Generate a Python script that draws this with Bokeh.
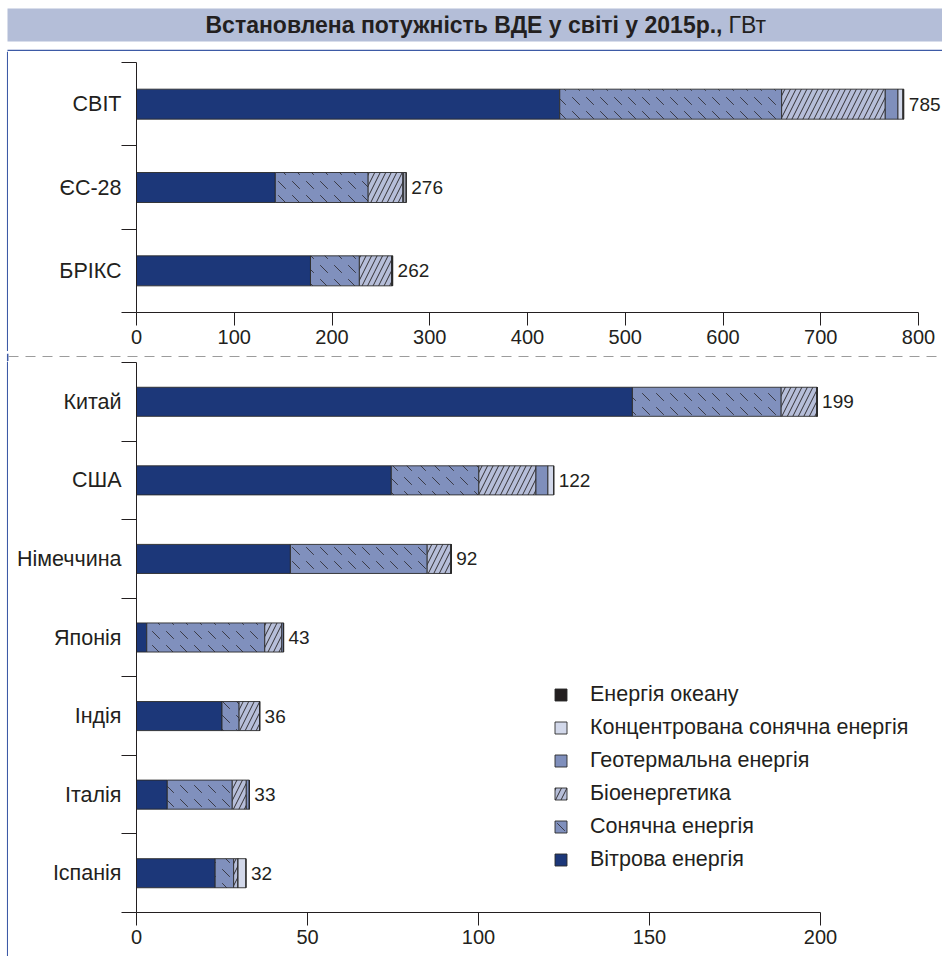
from bokeh.plotting import figure
from bokeh.models import (ColumnDataSource, Range1d, LinearAxis, FixedTicker, LabelSet,
                          Legend, LegendItem)
from bokeh.layouts import column, row
from bokeh.embed import file_html
from bokeh.resources import INLINE
from bokeh.core.properties import value

FONT = "Liberation Sans"

# Installed renewable power capacity, 2015, GW
title_bold = "Встановлена потужність ВДЕ у світі у 2015р.,"
title_unit = "ГВт"

source_names = ["Вітрова енергія", "Сонячна енергія", "Біоенергетика",
                "Геотермальна енергія", "Концентрована сонячна енергія", "Енергія океану"]

groups = ["СВІТ", "ЄС-28", "БРІКС"]
group_wind = [433, 142, 178]
group_solar = [227, 95, 50]
group_bio = [106, 35.5, 33]
group_geo = [13, 1, 0.5]
group_csp = [5, 2.3, 0.5]
group_ocean = [1, 0.2, 0]
group_totals = [785, 276, 262]
group_ticks = [0, 100, 200, 300, 400, 500, 600, 700, 800]

countries = ["Китай", "США", "Німеччина", "Японія", "Індія", "Італія", "Іспанія"]
country_wind = [145, 74.5, 45, 3, 25, 9, 23]
country_solar = [43.5, 25.6, 40, 34.5, 5, 19, 5.4]
country_bio = [10.5, 16.7, 7, 5, 6, 4.1, 1.3]
country_geo = [0, 3.5, 0, 0.5, 0, 0.9, 0]
country_csp = [0, 1.7, 0, 0, 0, 0, 2.3]
country_ocean = [0, 0, 0, 0, 0, 0, 0]
country_totals = [199, 122, 92, 43, 36, 33, 32]
country_ticks = [0, 50, 100, 150, 200]

INK = "#231f20"
BAND = "#b4bed8"
BORDER = "#3d5aa6"
KEYS = ["wind", "solar", "bio", "geo", "csp", "ocean"]
FILLS = ["#1c3779", "#8090bd", "#b6bed9", "#7f8fbc", "#d2d8ea", "#231f20"]
HATCHES = [None, "left_diagonal_dash", "right_diagonal_line", None, None, None]
HATCH_SCALE = [12, 14, 11, 12, 12, 12]
HATCH_ALPHA = [1, 0.85, 1, 1, 1, 1]

PANEL_W = 934      # chart canvas width (page minus the left frame strip)
LEFT = 128         # room for category names and boundary ticks
FRAME_W = PANEL_W - LEFT


def chart(cats, series, totals, ticks, axis_px, height, border_top, border_bottom, bar_h):
    n = len(cats)
    # first category on top: row i is centred at n - i - 0.5
    pos = [n - i - 0.5 for i in range(n)]
    # the plotting area runs to the right edge so the value labels and legend fit;
    # the axis itself stops at the last tick
    x_end = ticks[-1] * FRAME_W / axis_px
    p = figure(width=PANEL_W, height=height, y_range=Range1d(0, n),
               x_range=Range1d(0, x_end), y_axis_location=None,
               output_backend="svg", toolbar_location=None,
               min_border_left=LEFT, min_border_right=0,
               min_border_top=border_top, min_border_bottom=border_bottom)
    p.outline_line_color = None
    p.xgrid.visible = False
    p.ygrid.visible = False

    data = {"pos": pos, "total": totals, "label": [str(t) for t in totals]}
    for k, vals in zip(KEYS, series):
        data[k] = vals
    src = ColumnDataSource(data)

    rends = p.hbar_stack(KEYS, y="pos", height=bar_h, source=src,
                         fill_color=FILLS, line_color="#2a2a2a", line_width=0.9,
                         hatch_pattern=HATCHES, hatch_color=INK, hatch_scale=HATCH_SCALE,
                         hatch_weight=0.9, hatch_alpha=HATCH_ALPHA)

    p.add_layout(LabelSet(x="total", y="pos", text="label", source=src, x_offset=5,
                          text_baseline="middle", text_font=value(FONT),
                          text_font_size=value("19px"), text_color=INK))

    # x axis
    xa = p.xaxis[0]
    xa.ticker = FixedTicker(ticks=ticks)
    xa.bounds = (ticks[0], ticks[-1])
    xa.major_tick_in = 0
    xa.major_tick_out = 13
    xa.minor_tick_line_color = None
    xa.axis_line_color = INK
    xa.major_tick_line_color = INK
    xa.major_label_text_font = FONT
    xa.major_label_text_font_size = "20px"
    xa.major_label_text_color = INK
    xa.major_label_standoff = 4

    # y axis line with ticks on the row boundaries
    bounds = list(range(n + 1))
    tick_axis = LinearAxis(ticker=FixedTicker(ticks=bounds),
                           major_tick_in=0, major_tick_out=15,
                           minor_tick_line_color=None,
                           major_label_overrides={b: "" for b in bounds},
                           major_label_standoff=0, major_label_text_font_size="0px",
                           axis_line_color=INK, major_tick_line_color=INK)
    p.add_layout(tick_axis, "left")

    # category names at the row centres
    label_axis = LinearAxis(ticker=FixedTicker(ticks=pos),
                            major_label_overrides={y: c for y, c in zip(pos, cats)},
                            major_tick_line_color=None, minor_tick_line_color=None,
                            major_tick_in=0, major_tick_out=0, minor_tick_out=0,
                            axis_line_color=None,
                            major_label_standoff=0, major_label_text_font=FONT,
                            major_label_text_font_size="21.5px",
                            major_label_text_color=INK)
    p.add_layout(label_axis, "left")
    return p, rends


top, _ = chart(groups,
               [group_wind, group_solar, group_bio, group_geo, group_csp, group_ocean],
               group_totals, group_ticks, 782, 300, 11, 39, 0.36)

bottom, rends = chart(countries,
                      [country_wind, country_solar, country_bio, country_geo,
                       country_csp, country_ocean],
                      country_totals, country_ticks, 684, 595, 1, 44, 0.37)

legend = Legend(items=[LegendItem(label=name, renderers=[r])
                       for name, r in reversed(list(zip(source_names, rends)))],
                location=(417, 40), orientation="vertical",
                glyph_width=15, glyph_height=15, label_standoff=22, spacing=8,
                label_height=20, padding=0, margin=0, border_line_color=None,
                background_fill_alpha=0, label_text_font=FONT,
                label_text_font_size="21.5px", label_text_color=INK)
bottom.add_layout(legend)


def plain(width, height, x_end, y_start, y_end):
    f = figure(width=width, height=height, x_range=Range1d(0, x_end),
               y_range=Range1d(y_start, y_end), x_axis_location=None, y_axis_location=None,
               output_backend="svg", toolbar_location=None, min_border=0)
    f.outline_line_color = None
    f.xgrid.visible = False
    f.ygrid.visible = False
    return f


# heading band with the title
head = plain(942, 51, 942, 51, 0)
head.quad(left=7, right=942, top=8, bottom=41, fill_color=BAND, line_color=None)
head.text(x=[722], y=[24.5], text=[title_bold], text_align="right", text_baseline="middle",
          text_font=value(FONT), text_font_style="bold", text_font_size=value("23px"),
          text_color=INK)
head.text(x=[728], y=[24.5], text=[title_unit], text_align="left", text_baseline="middle",
          text_font=value(FONT), text_font_size=value("23px"), text_color=INK)
head.segment(x0=[7], x1=[942], y0=[50], y1=[50], line_color=BORDER, line_width=1.5)


def edge(height):
    e = plain(8, height, 8, 0, height)
    e.segment(x0=[7.2], x1=[7.2], y0=[0], y1=[height], line_color=BORDER, line_width=1.5)
    return e


# dashed divider between the two panels, crossing the left frame line
divider = plain(942, 10, 942, 10, 0)
divider.segment(x0=[7.2], x1=[7.2], y0=[0], y1=[10], line_color=BORDER, line_width=1.5)
divider.segment(x0=[8], x1=[942], y0=[3], y1=[3], line_color="#9c9c9c",
                line_width=1.2, line_dash="10 7")

page = column(head,
              row(edge(300), column(top)),
              divider,
              row(edge(595), column(bottom)))

open("out.html", "w").write(file_html(page, INLINE))
